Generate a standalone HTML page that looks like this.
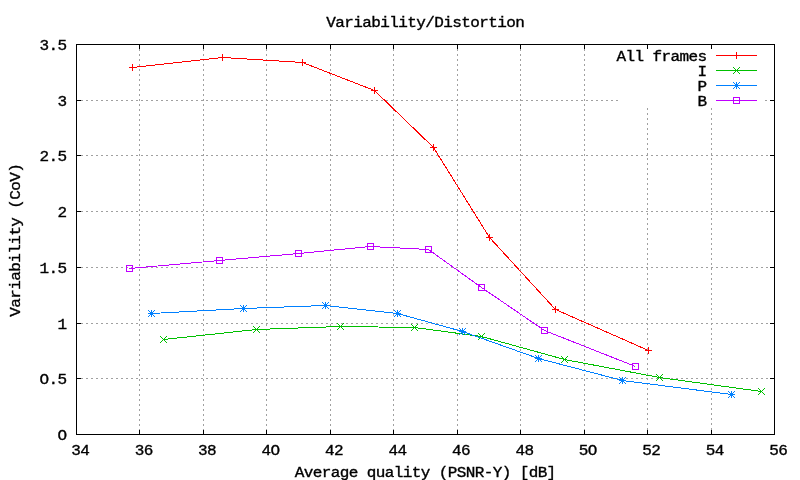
<!DOCTYPE html>
<html><head><meta charset="utf-8"><title>Variability/Distortion</title>
<style>
html,body{margin:0;padding:0;background:#fff;}
body{width:800px;height:480px;overflow:hidden;}
svg{display:block;will-change:transform;}
text{font-family:"Liberation Mono",monospace;font-size:16px;letter-spacing:-0.6px;fill:#000;stroke:#000;stroke-width:0.38px;}
.g{stroke:#a0a0a0;stroke-width:1;stroke-dasharray:2 3;fill:none;}
.k{stroke:#000;stroke-width:1;fill:none;}
</style></head><body>
<svg width="800" height="480" viewBox="0 0 800 480">
<rect width="800" height="480" fill="#fff"/>
<g shape-rendering="crispEdges">
<line class="g" x1="139.5" y1="44" x2="139.5" y2="435"/>
<line class="g" x1="203.5" y1="44" x2="203.5" y2="435"/>
<line class="g" x1="266.5" y1="44" x2="266.5" y2="435"/>
<line class="g" x1="330.5" y1="44" x2="330.5" y2="435"/>
<line class="g" x1="393.5" y1="44" x2="393.5" y2="435"/>
<line class="g" x1="457.5" y1="44" x2="457.5" y2="435"/>
<line class="g" x1="520.5" y1="44" x2="520.5" y2="435"/>
<line class="g" x1="584.5" y1="44" x2="584.5" y2="435"/>
<line class="g" x1="647.5" y1="108" x2="647.5" y2="435"/>
<line class="g" x1="711.5" y1="108" x2="711.5" y2="435"/>
<line class="g" x1="76" y1="378.5" x2="775" y2="378.5"/>
<line class="g" x1="76" y1="323.5" x2="775" y2="323.5"/>
<line class="g" x1="76" y1="267.5" x2="775" y2="267.5"/>
<line class="g" x1="76" y1="211.5" x2="775" y2="211.5"/>
<line class="g" x1="76" y1="155.5" x2="775" y2="155.5"/>
<line class="g" x1="76" y1="100.5" x2="619" y2="100.5"/>
<line class="g" x1="765" y1="100.5" x2="775" y2="100.5"/>
<rect class="k" x="76.5" y="44.5" width="698" height="390"/>
<line class="k" x1="76.5" y1="435" x2="76.5" y2="430"/>
<line class="k" x1="76.5" y1="44" x2="76.5" y2="49"/>
<line class="k" x1="139.5" y1="435" x2="139.5" y2="430"/>
<line class="k" x1="139.5" y1="44" x2="139.5" y2="49"/>
<line class="k" x1="203.5" y1="435" x2="203.5" y2="430"/>
<line class="k" x1="203.5" y1="44" x2="203.5" y2="49"/>
<line class="k" x1="266.5" y1="435" x2="266.5" y2="430"/>
<line class="k" x1="266.5" y1="44" x2="266.5" y2="49"/>
<line class="k" x1="330.5" y1="435" x2="330.5" y2="430"/>
<line class="k" x1="330.5" y1="44" x2="330.5" y2="49"/>
<line class="k" x1="393.5" y1="435" x2="393.5" y2="430"/>
<line class="k" x1="393.5" y1="44" x2="393.5" y2="49"/>
<line class="k" x1="457.5" y1="435" x2="457.5" y2="430"/>
<line class="k" x1="457.5" y1="44" x2="457.5" y2="49"/>
<line class="k" x1="520.5" y1="435" x2="520.5" y2="430"/>
<line class="k" x1="520.5" y1="44" x2="520.5" y2="49"/>
<line class="k" x1="584.5" y1="435" x2="584.5" y2="430"/>
<line class="k" x1="584.5" y1="44" x2="584.5" y2="49"/>
<line class="k" x1="647.5" y1="435" x2="647.5" y2="430"/>
<line class="k" x1="647.5" y1="44" x2="647.5" y2="49"/>
<line class="k" x1="711.5" y1="435" x2="711.5" y2="430"/>
<line class="k" x1="711.5" y1="44" x2="711.5" y2="49"/>
<line class="k" x1="774.5" y1="435" x2="774.5" y2="430"/>
<line class="k" x1="774.5" y1="44" x2="774.5" y2="49"/>
<line class="k" x1="76" y1="434.5" x2="81" y2="434.5"/>
<line class="k" x1="775" y1="434.5" x2="770" y2="434.5"/>
<line class="k" x1="76" y1="378.5" x2="81" y2="378.5"/>
<line class="k" x1="775" y1="378.5" x2="770" y2="378.5"/>
<line class="k" x1="76" y1="323.5" x2="81" y2="323.5"/>
<line class="k" x1="775" y1="323.5" x2="770" y2="323.5"/>
<line class="k" x1="76" y1="267.5" x2="81" y2="267.5"/>
<line class="k" x1="775" y1="267.5" x2="770" y2="267.5"/>
<line class="k" x1="76" y1="211.5" x2="81" y2="211.5"/>
<line class="k" x1="775" y1="211.5" x2="770" y2="211.5"/>
<line class="k" x1="76" y1="155.5" x2="81" y2="155.5"/>
<line class="k" x1="775" y1="155.5" x2="770" y2="155.5"/>
<line class="k" x1="76" y1="100.5" x2="81" y2="100.5"/>
<line class="k" x1="775" y1="100.5" x2="770" y2="100.5"/>
<line class="k" x1="76" y1="44.5" x2="81" y2="44.5"/>
<line class="k" x1="775" y1="44.5" x2="770" y2="44.5"/>
</g>
<polyline points="132.5,67.5 222.5,57.5 302.5,62.5 374.5,90.5 433.5,147.5 489.5,237.5 555.5,309.5 648.5,350.5" fill="none" stroke="#ff0000" stroke-width="1" shape-rendering="crispEdges"/>
<path d="M129 67.5H136M132.5 64V71" stroke="#ff0000" fill="none" shape-rendering="crispEdges"/>
<path d="M219 57.5H226M222.5 54V61" stroke="#ff0000" fill="none" shape-rendering="crispEdges"/>
<path d="M299 62.5H306M302.5 59V66" stroke="#ff0000" fill="none" shape-rendering="crispEdges"/>
<path d="M371 90.5H378M374.5 87V94" stroke="#ff0000" fill="none" shape-rendering="crispEdges"/>
<path d="M430 147.5H437M433.5 144V151" stroke="#ff0000" fill="none" shape-rendering="crispEdges"/>
<path d="M486 237.5H493M489.5 234V241" stroke="#ff0000" fill="none" shape-rendering="crispEdges"/>
<path d="M552 309.5H559M555.5 306V313" stroke="#ff0000" fill="none" shape-rendering="crispEdges"/>
<path d="M645 350.5H652M648.5 347V354" stroke="#ff0000" fill="none" shape-rendering="crispEdges"/>
<polyline points="163.5,339.5 256.5,329.5 340.5,326.5 414.5,327.5 481.5,336.5 564.5,359.5 659.5,377.5 761.5,391.5" fill="none" stroke="#00c000" stroke-width="1" shape-rendering="crispEdges"/>
<path d="M160 336L167 343M160 343L167 336" stroke="#00c000" fill="none" shape-rendering="crispEdges"/>
<path d="M253 326L260 333M253 333L260 326" stroke="#00c000" fill="none" shape-rendering="crispEdges"/>
<path d="M337 323L344 330M337 330L344 323" stroke="#00c000" fill="none" shape-rendering="crispEdges"/>
<path d="M411 324L418 331M411 331L418 324" stroke="#00c000" fill="none" shape-rendering="crispEdges"/>
<path d="M478 333L485 340M478 340L485 333" stroke="#00c000" fill="none" shape-rendering="crispEdges"/>
<path d="M561 356L568 363M561 363L568 356" stroke="#00c000" fill="none" shape-rendering="crispEdges"/>
<path d="M656 374L663 381M656 381L663 374" stroke="#00c000" fill="none" shape-rendering="crispEdges"/>
<path d="M758 388L765 395M758 395L765 388" stroke="#00c000" fill="none" shape-rendering="crispEdges"/>
<polyline points="151.5,313.5 243.5,308.5 325.5,305.5 397.5,313.5 462.5,331.5 538.5,358.5 622.5,380.5 731.5,394.5" fill="none" stroke="#0080ff" stroke-width="1" shape-rendering="crispEdges"/>
<path d="M148 313.5H155M151.5 310V317" stroke="#0080ff" fill="none" shape-rendering="crispEdges"/><path d="M148 310L155 317M148 317L155 310" stroke="#0080ff" fill="none" shape-rendering="crispEdges"/>
<path d="M240 308.5H247M243.5 305V312" stroke="#0080ff" fill="none" shape-rendering="crispEdges"/><path d="M240 305L247 312M240 312L247 305" stroke="#0080ff" fill="none" shape-rendering="crispEdges"/>
<path d="M322 305.5H329M325.5 302V309" stroke="#0080ff" fill="none" shape-rendering="crispEdges"/><path d="M322 302L329 309M322 309L329 302" stroke="#0080ff" fill="none" shape-rendering="crispEdges"/>
<path d="M394 313.5H401M397.5 310V317" stroke="#0080ff" fill="none" shape-rendering="crispEdges"/><path d="M394 310L401 317M394 317L401 310" stroke="#0080ff" fill="none" shape-rendering="crispEdges"/>
<path d="M459 331.5H466M462.5 328V335" stroke="#0080ff" fill="none" shape-rendering="crispEdges"/><path d="M459 328L466 335M459 335L466 328" stroke="#0080ff" fill="none" shape-rendering="crispEdges"/>
<path d="M535 358.5H542M538.5 355V362" stroke="#0080ff" fill="none" shape-rendering="crispEdges"/><path d="M535 355L542 362M535 362L542 355" stroke="#0080ff" fill="none" shape-rendering="crispEdges"/>
<path d="M619 380.5H626M622.5 377V384" stroke="#0080ff" fill="none" shape-rendering="crispEdges"/><path d="M619 377L626 384M619 384L626 377" stroke="#0080ff" fill="none" shape-rendering="crispEdges"/>
<path d="M728 394.5H735M731.5 391V398" stroke="#0080ff" fill="none" shape-rendering="crispEdges"/><path d="M728 391L735 398M728 398L735 391" stroke="#0080ff" fill="none" shape-rendering="crispEdges"/>
<polyline points="129.5,268.5 219.5,260.5 298.5,253.5 370.5,246.5 428.5,249.5 481.5,287.5 544.5,330.5 635.5,366.5" fill="none" stroke="#c000ff" stroke-width="1" shape-rendering="crispEdges"/>
<rect x="126.5" y="265.5" width="6" height="6" stroke="#c000ff" fill="none" shape-rendering="crispEdges"/>
<rect x="216.5" y="257.5" width="6" height="6" stroke="#c000ff" fill="none" shape-rendering="crispEdges"/>
<rect x="295.5" y="250.5" width="6" height="6" stroke="#c000ff" fill="none" shape-rendering="crispEdges"/>
<rect x="367.5" y="243.5" width="6" height="6" stroke="#c000ff" fill="none" shape-rendering="crispEdges"/>
<rect x="425.5" y="246.5" width="6" height="6" stroke="#c000ff" fill="none" shape-rendering="crispEdges"/>
<rect x="478.5" y="284.5" width="6" height="6" stroke="#c000ff" fill="none" shape-rendering="crispEdges"/>
<rect x="541.5" y="327.5" width="6" height="6" stroke="#c000ff" fill="none" shape-rendering="crispEdges"/>
<rect x="632.5" y="363.5" width="6" height="6" stroke="#c000ff" fill="none" shape-rendering="crispEdges"/>
<line x1="716" y1="55.5" x2="757" y2="55.5" stroke="#ff0000" shape-rendering="crispEdges"/>
<path d="M733 55.5H740M736.5 52V59" stroke="#ff0000" fill="none" shape-rendering="crispEdges"/>
<text transform="translate(706.4,60.5) scale(1,0.93)" text-anchor="end">All frames</text>
<line x1="716" y1="70.5" x2="757" y2="70.5" stroke="#00c000" shape-rendering="crispEdges"/>
<path d="M733 67L740 74M733 74L740 67" stroke="#00c000" fill="none" shape-rendering="crispEdges"/>
<text transform="translate(706.4,75.5) scale(1,0.93)" text-anchor="end">I</text>
<line x1="716" y1="85.5" x2="757" y2="85.5" stroke="#0080ff" shape-rendering="crispEdges"/>
<path d="M733 85.5H740M736.5 82V89" stroke="#0080ff" fill="none" shape-rendering="crispEdges"/><path d="M733 82L740 89M733 89L740 82" stroke="#0080ff" fill="none" shape-rendering="crispEdges"/>
<text transform="translate(706.4,90.5) scale(1,0.93)" text-anchor="end">P</text>
<line x1="716" y1="100.5" x2="757" y2="100.5" stroke="#c000ff" shape-rendering="crispEdges"/>
<rect x="733.5" y="97.5" width="6" height="6" stroke="#c000ff" fill="none" shape-rendering="crispEdges"/>
<text transform="translate(706.4,105.5) scale(1,0.93)" text-anchor="end">B</text>
<text transform="translate(80.2,455) scale(1,0.93)" text-anchor="middle">34</text>
<text transform="translate(143.7,455) scale(1,0.93)" text-anchor="middle">36</text>
<text transform="translate(207.1,455) scale(1,0.93)" text-anchor="middle">38</text>
<text transform="translate(270.6,455) scale(1,0.93)" text-anchor="middle">4O</text>
<text transform="translate(334.0,455) scale(1,0.93)" text-anchor="middle">42</text>
<text transform="translate(397.5,455) scale(1,0.93)" text-anchor="middle">44</text>
<text transform="translate(460.9,455) scale(1,0.93)" text-anchor="middle">46</text>
<text transform="translate(524.4,455) scale(1,0.93)" text-anchor="middle">48</text>
<text transform="translate(587.8,455) scale(1,0.93)" text-anchor="middle">5O</text>
<text transform="translate(651.3,455) scale(1,0.93)" text-anchor="middle">52</text>
<text transform="translate(714.7,455) scale(1,0.93)" text-anchor="middle">54</text>
<text transform="translate(778.2,455) scale(1,0.93)" text-anchor="middle">56</text>
<text transform="translate(66.4,440) scale(1,0.93)" text-anchor="end">O</text>
<text transform="translate(66.4,384) scale(1,0.93)" text-anchor="end">O.5</text>
<text transform="translate(66.4,329) scale(1,0.93)" text-anchor="end">1</text>
<text transform="translate(66.4,273) scale(1,0.93)" text-anchor="end">1.5</text>
<text transform="translate(66.4,217) scale(1,0.93)" text-anchor="end">2</text>
<text transform="translate(66.4,161) scale(1,0.93)" text-anchor="end">2.5</text>
<text transform="translate(66.4,106) scale(1,0.93)" text-anchor="end">3</text>
<text transform="translate(66.4,50) scale(1,0.93)" text-anchor="end">3.5</text>
<text transform="translate(425.2,27) scale(1,0.93)" text-anchor="middle">Variability/Distortion</text>
<text transform="translate(425.2,476.5) scale(1,0.93)" text-anchor="middle">Average quality (PSNR-Y) [dB]</text>
<text transform="translate(20,240.3) rotate(-90) scale(1,0.93)" text-anchor="middle">Variability (CoV)</text>
</svg></body></html>
